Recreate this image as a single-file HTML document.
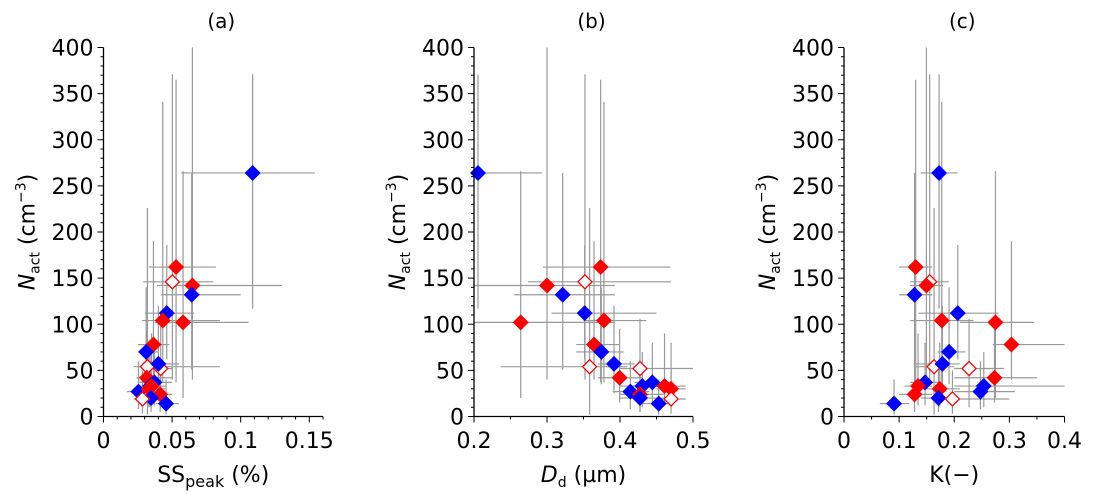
<!DOCTYPE html>
<html><head><meta charset="utf-8"><style>
html,body{margin:0;padding:0;background:#fff;width:1093px;height:500px;overflow:hidden}
svg text{font-family:"DejaVu Sans","Liberation Sans",sans-serif;fill:#000}
</style></head><body>
<svg id="chart" width="1093" height="500" xmlns="http://www.w3.org/2000/svg"></svg>
<script>
// Shared N_act values (cm^-3) and error range
const nact = [264,162,146,142,132,112,104,102,78,70,54,52,57,42,37,33,27,33,30,24,20,19,14];
const nLo  = [117,37,40,40,51,62,37,20,40,35,2,10,25,15,12,10,8,12,10,5,5,3,2];
const nHi  = [371,365,371,400,264,186,341,266,190,140,226,106,120,95,80,70,60,90,80,60,60,50,40];
const kind = ["b","r","o","r","b","b","r","r","r","b","o","o","b","r","b","b","b","r","r","r","b","o","b"];
// Panel a: SS_peak (%)
const ssVal = [0.1087,0.0529,0.0502,0.0648,0.0643,0.0461,0.0432,0.058,0.0364,0.0311,0.032,0.0417,0.040,0.0316,0.0371,0.034,0.0255,0.035,0.033,0.0413,0.0347,0.0284,0.0456];
const ssLo  = [0.0566,0.033,0.029,0.039,0.042,0.030,0.028,0.0376,0.025,0.025,0.022,0.035,0.028,0.024,0.026,0.025,0.017,0.025,0.025,0.033,0.028,0.022,0.038];
const ssHi  = [0.154,0.082,0.080,0.130,0.100,0.066,0.085,0.1056,0.048,0.040,0.085,0.050,0.055,0.050,0.050,0.045,0.035,0.045,0.045,0.050,0.045,0.035,0.055];
// Panel b: D_d (um)
const dVal = [0.2055,0.3735,0.352,0.300,0.3215,0.3516,0.378,0.264,0.3644,0.3744,0.3584,0.4274,0.3918,0.3995,0.4443,0.4306,0.4142,0.461,0.470,0.4274,0.4274,0.470,0.453];
const dLo  = [0.2,0.2945,0.274,0.2,0.255,0.306,0.35,0.2,0.34,0.34,0.2365,0.40,0.37,0.37,0.42,0.40,0.39,0.44,0.45,0.40,0.40,0.45,0.43];
const dHi  = [0.293,0.469,0.47,0.393,0.393,0.45,0.436,0.393,0.40,0.405,0.41,0.50,0.42,0.43,0.47,0.46,0.44,0.49,0.49,0.46,0.46,0.49,0.47];
// Panel c: K (-)
const kVal = [0.1725,0.130,0.1555,0.1495,0.128,0.2064,0.1773,0.2747,0.3038,0.1906,0.1634,0.2269,0.1785,0.273,0.147,0.2536,0.2475,0.1343,0.1737,0.128,0.1713,0.1967,0.0908];
const kLo  = [0.139,0.10,0.12,0.12,0.10,0.135,0.12,0.21,0.27,0.17,0.13,0.20,0.13,0.20,0.12,0.20,0.20,0.11,0.14,0.10,0.14,0.19,0.065];
const kHi  = [0.206,0.16,0.19,0.18,0.16,0.28,0.235,0.345,0.40,0.22,0.20,0.29,0.21,0.35,0.17,0.40,0.31,0.16,0.21,0.16,0.20,0.30,0.118];
const yTicks = [0,50,100,150,200,250,300,350,400];
const xTicksA = ["0","0.05","0.1","0.15"], xTickValsA=[0,0.05,0.1,0.15];
const xTicksB = ["0.2","0.3","0.4","0.5"], xTickValsB=[0.2,0.3,0.4,0.5];
const xTicksC = ["0","0.1","0.2","0.3","0.4"], xTickValsC=[0,0.1,0.2,0.3,0.4];

const NS="http://www.w3.org/2000/svg";
const svg=document.getElementById('chart');
function mk(tag,attrs,parent){const e=document.createElementNS(NS,tag);for(const k in attrs)e.setAttribute(k,attrs[k]);(parent||svg).appendChild(e);return e;}
const Y0=416.5,Y1=47.5;
function ys(v){return Y0-(v/400)*(Y0-Y1);}

const panels=[
 {id:'a',title:'(a)',x0:103.5,x1:323,d0:0,d1:0.16,val:ssVal,lo:ssLo,hi:ssHi,tl:xTicksA,tv:xTickValsA,minor:0.01,lab:'ss'},
 {id:'b',title:'(b)',x0:474,x1:693,d0:0.2,d1:0.5,val:dVal,lo:dLo,hi:dHi,tl:xTicksB,tv:xTickValsB,minor:0.05,lab:'d'},
 {id:'c',title:'(c)',x0:844,x1:1064.5,d0:0,d1:0.4,val:kVal,lo:kLo,hi:kHi,tl:xTicksC,tv:xTickValsC,minor:0.05,lab:'k'}
];
panels.forEach(p=>{
 const g=mk('g',{});
 
 
 const xs=v=>p.x0+(v-p.d0)/(p.d1-p.d0)*(p.x1-p.x0);
 // error bars
 const eg=mk('g',{stroke:'#999','stroke-width':1.2},g);
 
 
 for(let i=0;i<nact.length;i++){
  const cx=xs(p.val[i]),cy=ys(nact[i]);
  const v=mk('line',{x1:cx,x2:cx,y1:ys(nLo[i]),y2:ys(nHi[i])},eg);
  
  
  const h=mk('line',{x1:xs(p.lo[i]),x2:xs(Math.min(p.hi[i],p.d1)),y1:cy,y2:cy},eg);
  
  
 }
 // markers
 for(let i=0;i<nact.length;i++){
  const cx=xs(p.val[i]),cy=ys(nact[i]),r=8;
  const pts=`${cx},${cy-r} ${cx+r},${cy} ${cx},${cy+r} ${cx-r},${cy}`;
  let m;
  if(kind[i]==='o') m=mk('polygon',{points:`${cx},${cy-7} ${cx+7},${cy} ${cx},${cy+7} ${cx-7},${cy}`,fill:'#fff',stroke:'#f00','stroke-width':1.3},g);
  else m=mk('polygon',{points:pts,fill:kind[i]==='b'?'#00f':'#f00'},g);
  
  
 }
 // axes
 const ax=mk('path',{d:`M${p.x0},${Y1} V${Y0} H${p.x1}`,fill:'none',stroke:'#000','stroke-width':1.3},g);
 
 
 for(let v=0;v<=400;v+=10){const y=ys(v);const L=v%50===0?6:3;mk('line',{x1:p.x0-L,x2:p.x0,y1:y,y2:y,stroke:'#000','stroke-width':1},g);}
 yTicks.forEach(v=>{const t=mk('text',{x:p.x0-10,y:ys(v)+8,'text-anchor':'end','font-size':22},g);t.textContent=v;
  
  });
 const nm=Math.round((p.d1-p.d0)/p.minor);
 for(let k=0;k<=nm;k++){const v=p.d0+k*p.minor;const x=xs(v);const major=p.tv.some(t=>Math.abs(t-v)<1e-9);mk('line',{x1:x,x2:x,y1:Y0,y2:Y0+(major?6:3),stroke:'#000','stroke-width':1},g);}
 p.tv.forEach((v,j)=>{const t=mk('text',{x:xs(v),y:448,'text-anchor':'middle','font-size':22},g);t.textContent=p.tl[j];
  
  });
 const tt=mk('text',{x:(p.x0+p.x1)/2+8,y:28,'text-anchor':'middle','font-size':20},g);tt.textContent=p.title;
 
 
 // y label
 const yl=mk('text',{transform:`translate(${p.x0-69},232) rotate(-90)`,'text-anchor':'middle','font-size':22},g);
 yl.innerHTML='<tspan font-style="italic">N</tspan><tspan font-size="14" dy="5">act</tspan><tspan dy="-5">  (cm</tspan><tspan font-size="14" dy="-9">−3</tspan><tspan dy="9">)</tspan>';
 
 
 const xl=mk('text',{x:(p.x0+p.x1)/2,y:482,'text-anchor':'middle','font-size':22},g);
 if(p.lab==='ss') xl.innerHTML='SS<tspan font-size="16" dy="5">peak</tspan><tspan dy="-5"> (%)</tspan>';
 else if(p.lab==='d') xl.innerHTML='<tspan font-style="italic">D</tspan><tspan font-size="14" dy="5">d</tspan><tspan dy="-5"> (µm)</tspan>';
 else xl.textContent='K(−)';
 
 
});
</script>
</body></html>
